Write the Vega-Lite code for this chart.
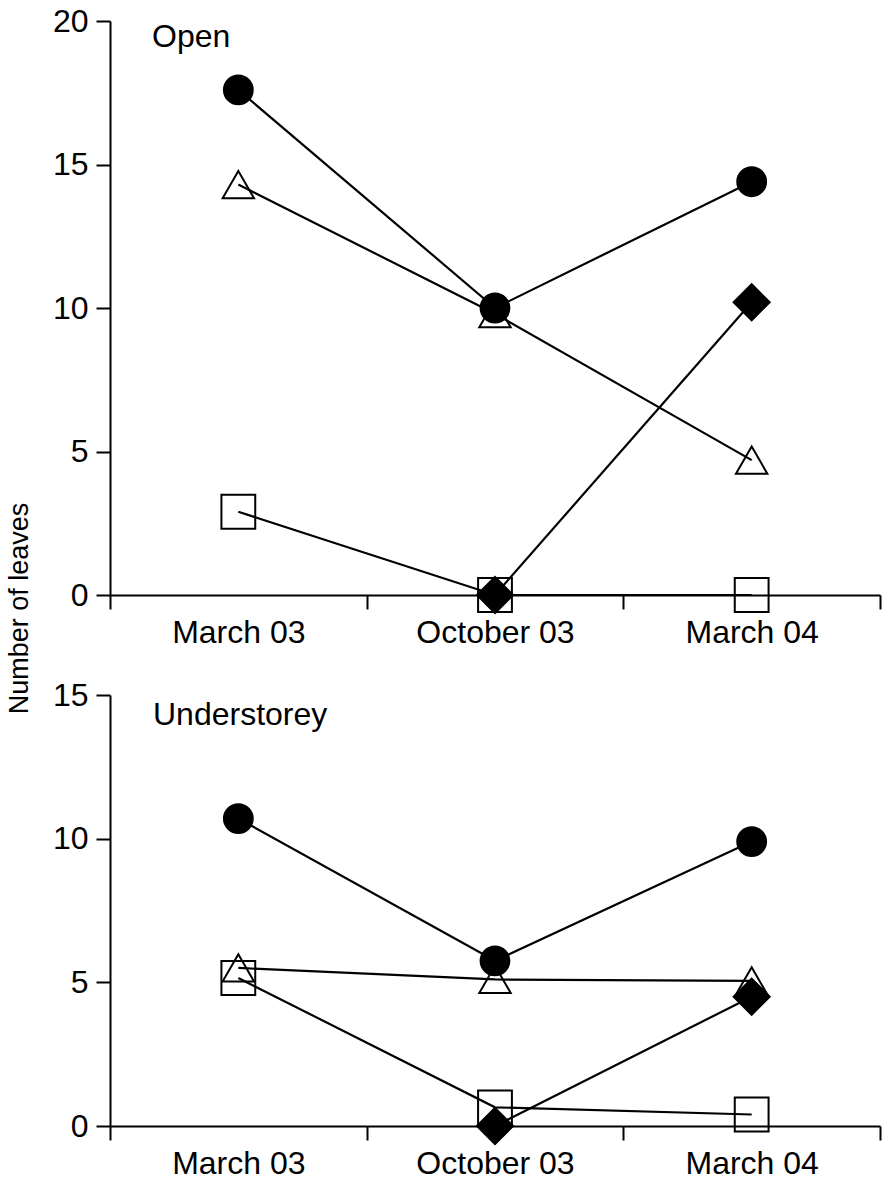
{
  "$schema": "https://vega.github.io/schema/vega-lite/v6.json",
  "padding": {"left": 5, "top": 5, "right": 5, "bottom": 0},
  "bounds": "flush",
  "spacing": 100,
  "data": {"values": [
    {"panel": "Open", "date": "March 03", "t": 0, "series": "triangle", "value": 14.3},
    {"panel": "Open", "date": "October 03", "t": 1, "series": "triangle", "value": 9.8},
    {"panel": "Open", "date": "March 04", "t": 2, "series": "triangle", "value": 4.7},
    {"panel": "Open", "date": "March 03", "t": 0, "series": "square", "value": 2.9},
    {"panel": "Open", "date": "October 03", "t": 1, "series": "square", "value": 0.0},
    {"panel": "Open", "date": "March 04", "t": 2, "series": "square", "value": 0.0},
    {"panel": "Open", "date": "October 03", "t": 1, "series": "diamond", "value": 0.0},
    {"panel": "Open", "date": "March 04", "t": 2, "series": "diamond", "value": 10.2},
    {"panel": "Open", "date": "March 03", "t": 0, "series": "circle", "value": 17.6},
    {"panel": "Open", "date": "October 03", "t": 1, "series": "circle", "value": 10.0},
    {"panel": "Open", "date": "March 04", "t": 2, "series": "circle", "value": 14.4},
    {"panel": "Understorey", "date": "March 03", "t": 0, "series": "triangle", "value": 5.5},
    {"panel": "Understorey", "date": "October 03", "t": 1, "series": "triangle", "value": 5.1},
    {"panel": "Understorey", "date": "March 04", "t": 2, "series": "triangle", "value": 5.05},
    {"panel": "Understorey", "date": "March 03", "t": 0, "series": "square", "value": 5.15},
    {"panel": "Understorey", "date": "October 03", "t": 1, "series": "square", "value": 0.65},
    {"panel": "Understorey", "date": "March 04", "t": 2, "series": "square", "value": 0.4},
    {"panel": "Understorey", "date": "October 03", "t": 1, "series": "diamond", "value": 0.0},
    {"panel": "Understorey", "date": "March 04", "t": 2, "series": "diamond", "value": 4.5},
    {"panel": "Understorey", "date": "March 03", "t": 0, "series": "circle", "value": 10.7},
    {"panel": "Understorey", "date": "October 03", "t": 1, "series": "circle", "value": 5.75},
    {"panel": "Understorey", "date": "March 04", "t": 2, "series": "circle", "value": 9.9}
  ]},
  "config": {
    "view": {"stroke": null},
    "font": "Liberation Sans",
    "axis": {
      "labelFont": "Liberation Sans", "labelFontSize": 32, "labelColor": "black",
      "titleFont": "Liberation Sans", "titleFontSize": 27, "titleFontWeight": "normal", "titleColor": "black",
      "domainColor": "black", "domainWidth": 2, "tickColor": "black", "tickWidth": 2, "tickSize": 14, "grid": false
    },
    "title": {"font": "Liberation Sans", "fontSize": 32, "fontWeight": "normal", "color": "black"}
  },
  "vconcat": [
    {
      "width": 770, "height": 574,
      "title": {"text": "Open", "anchor": "start", "frame": "group", "offset": -74, "dx": 42, "baseline": "alphabetic"},
      "transform": [{"filter": "datum.panel === 'Open'"}],
      "encoding": {
        "x": {"field": "date", "type": "ordinal", "sort": ["March 03", "October 03", "March 04"],
              "scale": {"type": "band", "paddingInner": 0, "paddingOuter": 0},
              "axis": {"title": null, "tickBand": "extent", "labelAngle": 0, "labelPadding": 8}},
        "y": {"field": "value", "type": "quantitative", "scale": {"domain": [0, 20], "nice": false},
              "axis": {"values": [0, 5, 10, 15, 20], "labelPadding": 8, "title": "Number of leaves",
                       "titleX": -83, "titleY": 587, "titleAngle": -90, "titleAlign": "center", "titleBaseline": "alphabetic"}}
      },
      "layer": [
        {"mark": {"type": "line", "color": "black", "strokeWidth": 2.2},
         "encoding": {"detail": {"field": "series"}, "order": {"field": "t", "type": "quantitative"}}},
        {"mark": {"type": "point", "filled": true, "stroke": "black", "strokeWidth": 2, "opacity": 1},
         "encoding": {
           "shape": {"field": "series", "type": "nominal", "scale": {"domain": ["circle", "triangle", "square", "diamond"], "range": ["circle", "triangle-up", "square", "diamond"]}, "legend": null},
           "fill": {"field": "series", "type": "nominal", "scale": {"domain": ["circle", "triangle", "square", "diamond"], "range": ["black", "transparent", "transparent", "black"]}, "legend": null},
           "size": {"field": "series", "type": "nominal", "scale": {"domain": ["circle", "triangle", "square", "diamond"], "range": [830, 1300, 600, 650]}, "legend": null}
         }}
      ]
    },
    {
      "width": 770, "height": 431,
      "title": {"text": "Understorey", "anchor": "start", "frame": "group", "offset": -78, "dx": 43, "baseline": "alphabetic"},
      "transform": [{"filter": "datum.panel === 'Understorey'"}],
      "encoding": {
        "x": {"field": "date", "type": "ordinal", "sort": ["March 03", "October 03", "March 04"],
              "scale": {"type": "band", "paddingInner": 0, "paddingOuter": 0},
              "axis": {"title": null, "tickBand": "extent", "labelAngle": 0, "labelPadding": 8}},
        "y": {"field": "value", "type": "quantitative", "scale": {"domain": [0, 15], "nice": false},
              "axis": {"values": [0, 5, 10, 15], "labelPadding": 8, "title": null}}
      },
      "layer": [
        {"mark": {"type": "line", "color": "black", "strokeWidth": 2.2},
         "encoding": {"detail": {"field": "series"}, "order": {"field": "t", "type": "quantitative"}}},
        {"mark": {"type": "point", "filled": true, "stroke": "black", "strokeWidth": 2, "opacity": 1},
         "encoding": {
           "shape": {"field": "series", "type": "nominal", "scale": {"domain": ["circle", "triangle", "square", "diamond"], "range": ["circle", "triangle-up", "square", "diamond"]}, "legend": null},
           "fill": {"field": "series", "type": "nominal", "scale": {"domain": ["circle", "triangle", "square", "diamond"], "range": ["black", "transparent", "transparent", "black"]}, "legend": null},
           "size": {"field": "series", "type": "nominal", "scale": {"domain": ["circle", "triangle", "square", "diamond"], "range": [830, 1300, 600, 650]}, "legend": null}
         }}
      ]
    }
  ]
}
